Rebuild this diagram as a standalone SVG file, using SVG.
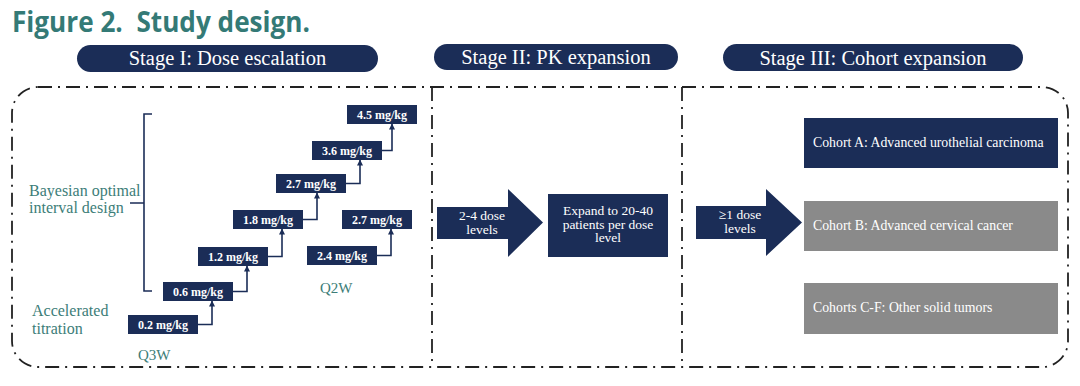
<svg xmlns="http://www.w3.org/2000/svg" width="1080" height="386" viewBox="0 0 1080 386">
<style>
.title{font-family:"Open Sans",Lato,sans-serif;font-weight:bold;font-size:28px;fill:#347a76}
.pill{fill:#1b2d57}
.serif{font-family:"Liberation Serif","Times New Roman",Times,"Noto Serif","DejaVu Serif",serif}
.pilltxt{font-size:20.5px;fill:#ffffff;text-anchor:middle}
.dose{fill:#1b2d57}
.dosetxt{font-weight:bold;font-size:12px;fill:#ffffff;text-anchor:middle}
.lbl{font-size:16px;fill:#3c7d78}
.q{font-size:15px}
.conn{fill:none;stroke:#1b2d57;stroke-width:1.6}
.border{fill:none;stroke:#222;stroke-width:1.8;stroke-dasharray:14 6 2 6}
.navy{fill:#1b2d57}
.gray{fill:#8a8a8a}
.wtxt{font-size:13.5px;fill:#ffffff}
.ctxt{font-size:13.8px}
.ctr{text-anchor:middle}
</style>
<defs>
<marker id="ah" viewBox="0 0 6 6" refX="5.5" refY="3" markerWidth="6" markerHeight="6" markerUnits="userSpaceOnUse" orient="auto">
<path d="M0,0 L6,3 L0,6 z" fill="#1b2d57"/>
</marker>
</defs>
<rect width="1080" height="386" fill="#ffffff"/>
<text class="title" x="12" y="32" xml:space="preserve" textLength="298" lengthAdjust="spacingAndGlyphs">Figure 2.  Study design.</text>

<g id="frame">
<rect class="border" x="12" y="87" width="1056" height="280" rx="26" ry="26"/>
<line class="border" x1="432" y1="87" x2="432" y2="367"/>
<line class="border" x1="682" y1="87" x2="682" y2="367"/>
</g>

<g class="serif">
<g id="stage1-header">
<rect class="pill" x="77" y="45" width="301" height="27" rx="13.5"/>
<text class="pilltxt" x="227.5" y="65">Stage I: Dose escalation</text>
</g>
<g id="stage2-header">
<rect class="pill" x="434" y="44" width="244" height="26" rx="13"/>
<text class="pilltxt" x="556" y="64">Stage II: PK expansion</text>
</g>
<g id="stage3-header">
<rect class="pill" x="723" y="44" width="300" height="27" rx="13.5"/>
<text class="pilltxt" x="873" y="64.5">Stage III: Cohort expansion</text>
</g>

<g id="boin-label">
<text class="lbl" x="29" y="196">Bayesian optimal</text>
<text class="lbl" x="29" y="213">interval design</text>
<path class="conn" d="M152,114 H144 V291 H152 M144,203 H130"/>
</g>
<g id="accel-label">
<text class="lbl" x="32" y="316">Accelerated</text>
<text class="lbl" x="32" y="334">titration</text>
</g>
<g id="q3w-label"><text class="lbl q" x="138" y="360">Q3W</text></g>
<g id="q2w-label"><text class="lbl q" x="320" y="293">Q2W</text></g>

<g id="dose-02"><rect class="dose" x="128" y="315" width="70" height="19"/><text class="dosetxt" x="163" y="328.5">0.2 mg/kg</text></g>
<g id="dose-06"><rect class="dose" x="163" y="282" width="70" height="19"/><text class="dosetxt" x="198" y="295.5">0.6 mg/kg</text></g>
<g id="dose-12"><rect class="dose" x="198" y="247" width="70" height="19"/><text class="dosetxt" x="233" y="260.5">1.2 mg/kg</text></g>
<g id="dose-18"><rect class="dose" x="233" y="210" width="70" height="19"/><text class="dosetxt" x="268" y="223.5">1.8 mg/kg</text></g>
<g id="dose-27"><rect class="dose" x="276" y="174" width="70" height="19"/><text class="dosetxt" x="311" y="187.5">2.7 mg/kg</text></g>
<g id="dose-36"><rect class="dose" x="312" y="141" width="70" height="19"/><text class="dosetxt" x="347" y="154.5">3.6 mg/kg</text></g>
<g id="dose-45"><rect class="dose" x="347" y="105" width="70" height="19"/><text class="dosetxt" x="382" y="118.5">4.5 mg/kg</text></g>
<g id="dose-q2w-24"><rect class="dose" x="307" y="246" width="70" height="19"/><text class="dosetxt" x="342" y="259.5">2.4 mg/kg</text></g>
<g id="dose-q2w-27"><rect class="dose" x="342" y="210" width="70" height="19"/><text class="dosetxt" x="377" y="223.5">2.7 mg/kg</text></g>

<g id="connectors">
<path class="conn" d="M198,324.5 H212 V301" marker-end="url(#ah)"/>
<path class="conn" d="M233,291.5 H247 V266" marker-end="url(#ah)"/>
<path class="conn" d="M268,256.5 H282 V229" marker-end="url(#ah)"/>
<path class="conn" d="M303,219.5 H317 V193" marker-end="url(#ah)"/>
<path class="conn" d="M346,183.5 H360 V160" marker-end="url(#ah)"/>
<path class="conn" d="M382,150.5 H392 V124" marker-end="url(#ah)"/>
<path class="conn" d="M377,255.5 H391 V229" marker-end="url(#ah)"/>
</g>

<g id="arrow-2-4">
<path class="navy" d="M437,207 H508 V189 L543,222.5 L508,257 V239 H437 z"/>
<text class="wtxt ctr" x="482" y="220">2-4 dose</text>
<text class="wtxt ctr" x="482" y="234">levels</text>
</g>
<g id="expand-box">
<rect class="navy" x="548" y="194" width="120" height="63"/>
<text class="wtxt ctr" x="608" y="215">Expand to 20-40</text>
<text class="wtxt ctr" x="608" y="228.5">patients per dose</text>
<text class="wtxt ctr" x="608" y="242">level</text>
</g>

<g id="arrow-ge1">
<path class="navy" d="M696,206 H766 V189 L802,222.5 L766,256 V239 H696 z"/>
<text class="wtxt ctr" x="740" y="219">≥1 dose</text>
<text class="wtxt ctr" x="740" y="233">levels</text>
</g>
<g id="cohort-a">
<rect class="navy" x="804" y="118" width="254" height="50"/>
<text class="wtxt ctxt" x="813" y="147">Cohort A: Advanced urothelial carcinoma</text>
</g>
<g id="cohort-b">
<rect class="gray" x="804" y="201" width="254" height="50"/>
<text class="wtxt ctxt" x="813" y="230">Cohort B: Advanced cervical cancer</text>
</g>
<g id="cohort-cf">
<rect class="gray" x="804" y="283" width="254" height="51"/>
<text class="wtxt ctxt" x="813" y="312">Cohorts C-F: Other solid tumors</text>
</g>
</g>
</svg>
